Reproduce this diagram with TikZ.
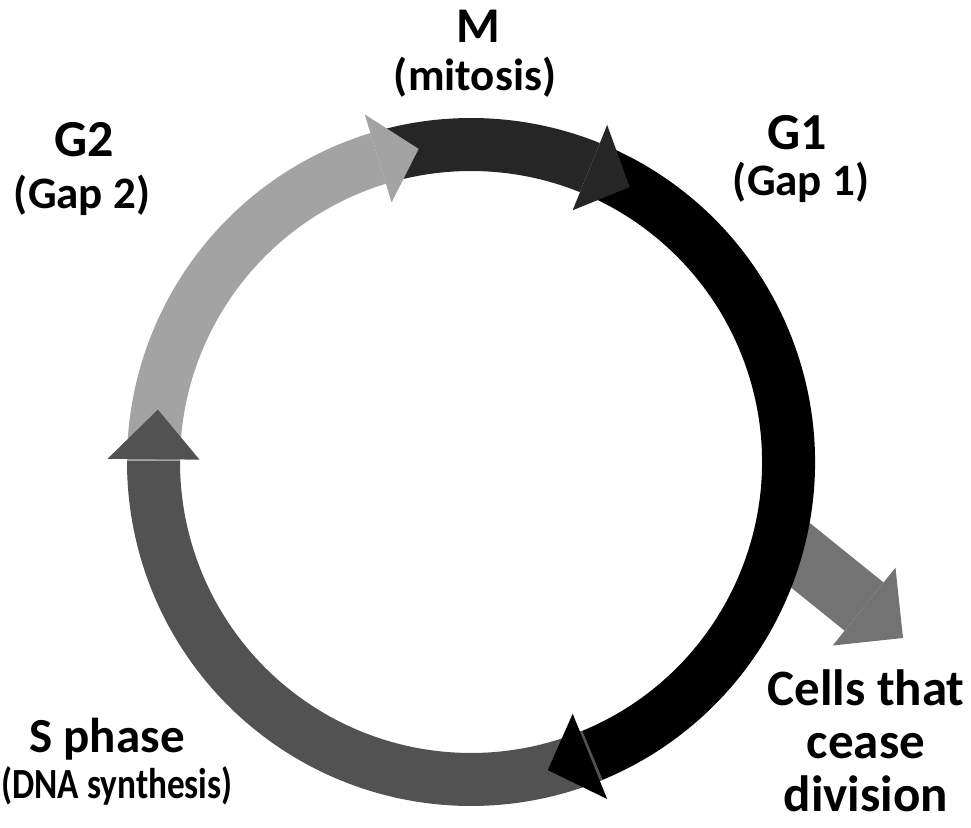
\documentclass[tikz,border=0pt]{standalone}
\usepackage{fontspec}
\setmainfont{Carlito}
\newfontfamily\narrowfont[FakeStretch=0.82]{Carlito}
\usepackage{tikz}
\usetikzlibrary{arrows.meta}

\newcommand{\rin}{291}
\newcommand{\rout}{344}
\newcommand{\rmid}{317.5}
% one band of the ring, from angle #2 to angle #3
\newcommand{\phaseband}[3]{\fill[#1] (#2:\rout) arc[start angle=#2, end angle=#3, radius=\rout bp]
  -- (#3:\rin) arc[start angle=#3, end angle=#2, radius=\rin bp] -- cycle;}
% arrow head, base at angle #2, tip at angle #3
\newcommand{\phasehead}[3]{\fill[#1] ({#2}:{\rmid+46}) -- ({#3}:{\rmid}) -- ({#2}:{\rmid-46}) -- cycle;}

\begin{document}
\begin{tikzpicture}[
    x=1bp, y=1bp,
    mphase/.style={fill=black!85},
    gonephase/.style={fill=black},
    sphase/.style={fill=black!68},
    gtwophase/.style={fill=black!36},
    exitarr/.style={draw=black!55, line width=62bp, -{Triangle[length=50bp, width=100bp, line width=0pt]}},
    phasename/.style={font=\fontsize{52bp}{56bp}\selectfont\bfseries, inner sep=0pt, anchor=base},
    phasesub/.style={font=\fontsize{45bp}{48bp}\selectfont\bfseries, inner sep=0pt, anchor=base},
    ceaselabel/.style={font=\fontsize{51bp}{53bp}\selectfont\bfseries, inner sep=0pt, align=center}
  ]
    \useasboundingbox (-471,-366) rectangle (500,462);

    % cells leaving the cycle
    \coordinate (exitfrom) at (313,-80);
    \coordinate (exittip) at (432,-176);
    \draw[exitarr] (exitfrom) -- (exittip);

    % the four phases
    \phaseband{mphase}{106.5}{68}
    \phaseband{gonephase}{67.5}{-68}
    \phaseband{sphase}{-67.5}{-180.5}
    \phaseband{gtwophase}{179.8}{107}
    \phasehead{mphase}{68}{60}
    \phasehead{gonephase}{-68}{-76}
    \phasehead{sphase}{179.5}{170.5}
    \phasehead{gtwophase}{107}{99.5}

    \node[phasename, font=\fontsize{50bp}{54bp}\selectfont\bfseries] (mname) at (7,419) {M};
    \node[phasesub] (msub) at (4,371) {(mitosis)};
    \node[phasename] (gonename) at (326,312) {G1};
    \node[phasesub] (gonesub) at (330,266) {(Gap 1)};
    \node[phasename] (gtwoname) at (-387,305) {G2};
    \node[phasesub] (gtwosub) at (-389,253) {(Gap 2)};
    \node[phasename, font=\fontsize{49bp}{52bp}\selectfont\bfseries] (sname) at (-364,-290) {S phase};
    \node[phasesub, font=\fontsize{43bp}{46bp}\selectfont\narrowfont\bfseries] (ssub) at (-354,-336) {(DNA synthesis)};
    \node[ceaselabel] (cease) at (395,-279) {Cells that\\cease\\division};
\end{tikzpicture}
\end{document}
